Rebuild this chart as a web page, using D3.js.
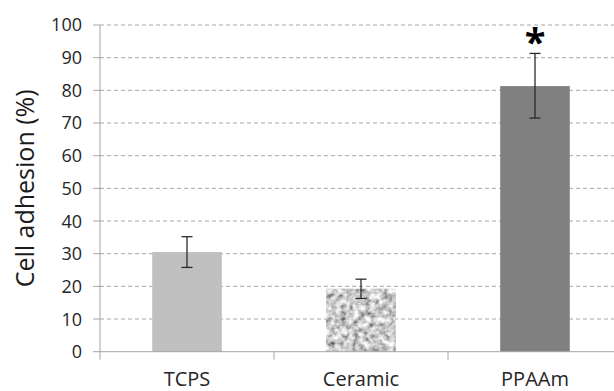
<!DOCTYPE html>
<html>
<head>
<meta charset="utf-8">
<script src="https://cdn.jsdelivr.net/npm/d3@7"></script>
<style>
  html, body { margin: 0; padding: 0; background: #fff; }
  svg { display: block; }
  text { font-family: "Open Sans", "Noto Sans", sans-serif; }
</style>
</head>
<body>
<svg id="chart" width="614" height="391"></svg>
<script>
// Cell adhesion per substrate (mean with error bar bounds), in percent
const categories = ["TCPS", "Ceramic", "PPAAm"];
const adhesion = [30.5, 19.3, 81.3];
const errLow = [25.8, 16.3, 71.5];
const errHigh = [35.2, 22.2, 91.3];
const significant = [false, false, true];
const yTicks = [0, 10, 20, 30, 40, 50, 60, 70, 80, 90, 100];

const svg = d3.select("#chart");
const plotLeft = 100, plotRight = 622, plotTop = 25, plotBottom = 351.7;

const y = d3.scaleLinear().domain([0, 100]).range([plotBottom, plotTop]);
const x = d3.scaleBand().domain(categories).range([plotLeft, plotRight])
  .paddingInner(0.6).paddingOuter(0.3);

// Granite-like surface texture for the ceramic bar
const defs = svg.append("defs");
const f = defs.append("filter").attr("id", "granite")
  .attr("x", 0).attr("y", 0).attr("width", 1).attr("height", 1);
f.append("feTurbulence").attr("type", "fractalNoise")
  .attr("baseFrequency", 0.17).attr("numOctaves", 3).attr("seed", 11).attr("result", "noise");
f.append("feColorMatrix").attr("in", "noise").attr("type", "matrix")
  .attr("values", "1.45 0 0 0 -0.12  1.45 0 0 0 -0.12  1.45 0 0 0 -0.12  0 0 0 0 1")
  .attr("result", "grey");
f.append("feGaussianBlur").attr("in", "grey").attr("stdDeviation", 0.5).attr("result", "soft");
f.append("feComposite").attr("in", "soft").attr("in2", "SourceGraphic").attr("operator", "in");

// Dashed horizontal gridlines
svg.append("g").selectAll("line")
  .data(yTicks.filter(d => d > 0))
  .join("line")
  .attr("x1", plotLeft).attr("x2", 614)
  .attr("y1", d => y(d)).attr("y2", d => y(d))
  .attr("stroke", "#a6a6a6").attr("stroke-width", 1)
  .attr("stroke-dasharray", "4,3");

// Bars
const fills = { TCPS: "#c0c0c0", Ceramic: "#a0a0a0", PPAAm: "#808080" };
svg.append("g").selectAll("rect")
  .data(categories)
  .join("rect")
  .attr("x", d => x(d))
  .attr("y", (d, i) => y(adhesion[i]))
  .attr("width", x.bandwidth())
  .attr("height", (d, i) => y(0) - y(adhesion[i]))
  .attr("fill", d => fills[d])
  .attr("filter", d => d === "Ceramic" ? "url(#granite)" : null);

// Y axis
const yAxis = svg.append("g");
yAxis.append("line")
  .attr("x1", plotLeft).attr("x2", plotLeft).attr("y1", plotTop).attr("y2", plotBottom + 8)
  .attr("stroke", "#a6a6a6");
yAxis.selectAll("line.tick").data(yTicks).join("line").attr("class", "tick")
  .attr("x1", plotLeft - 7).attr("x2", plotLeft)
  .attr("y1", d => y(d)).attr("y2", d => y(d))
  .attr("stroke", "#a6a6a6");
yAxis.selectAll("text").data(yTicks).join("text")
  .attr("x", 82).attr("y", d => y(d))
  .attr("dy", "0.36em")
  .attr("text-anchor", "end")
  .attr("font-size", 18)
  .attr("fill", "#262626")
  .text(d => d);

// X axis with category boundary ticks
const step = x.step();
const xAxis = svg.append("g");
xAxis.append("line")
  .attr("x1", plotLeft).attr("x2", 614).attr("y1", plotBottom).attr("y2", plotBottom)
  .attr("stroke", "#a6a6a6");
xAxis.selectAll("line.tick").data(d3.range(1, categories.length)).join("line")
  .attr("class", "tick")
  .attr("x1", i => plotLeft + i * step).attr("x2", i => plotLeft + i * step)
  .attr("y1", plotBottom).attr("y2", plotBottom + 8)
  .attr("stroke", "#a6a6a6");
xAxis.selectAll("text").data(categories).join("text")
  .attr("x", d => x(d) + x.bandwidth() / 2)
  .attr("y", 386)
  .attr("text-anchor", "middle")
  .attr("font-size", 20)
  .attr("fill", "#262626")
  .text(d => d);

// Error bars
const eb = svg.append("g").attr("stroke", "#2a2a2a").attr("stroke-width", 1.3);
categories.forEach((c, i) => {
  const cx = x(c) + x.bandwidth() / 2;
  eb.append("line").attr("x1", cx).attr("x2", cx)
    .attr("y1", y(errLow[i])).attr("y2", y(errHigh[i]));
  [errLow[i], errHigh[i]].forEach(v => {
    eb.append("line").attr("x1", cx - 5.5).attr("x2", cx + 5.5)
      .attr("y1", y(v)).attr("y2", y(v));
  });
});

// Significance marker
svg.append("g").selectAll("text")
  .data(categories.filter((c, i) => significant[i]))
  .join("text")
  .attr("x", d => x(d) + x.bandwidth() / 2)
  .attr("y", d => y(errHigh[categories.indexOf(d)]) + 3)
  .attr("text-anchor", "middle")
  .attr("font-size", 38)
  .attr("font-weight", "bold")
  .attr("fill", "#000")
  .text("*");

// Axis title
svg.append("text")
  .attr("transform", `translate(34, ${(plotTop + plotBottom) / 2}) rotate(-90)`)
  .attr("text-anchor", "middle")
  .attr("font-size", 25)
  .attr("fill", "#1a1a1a")
  .text("Cell adhesion (%)");
</script>
</body>
</html>
